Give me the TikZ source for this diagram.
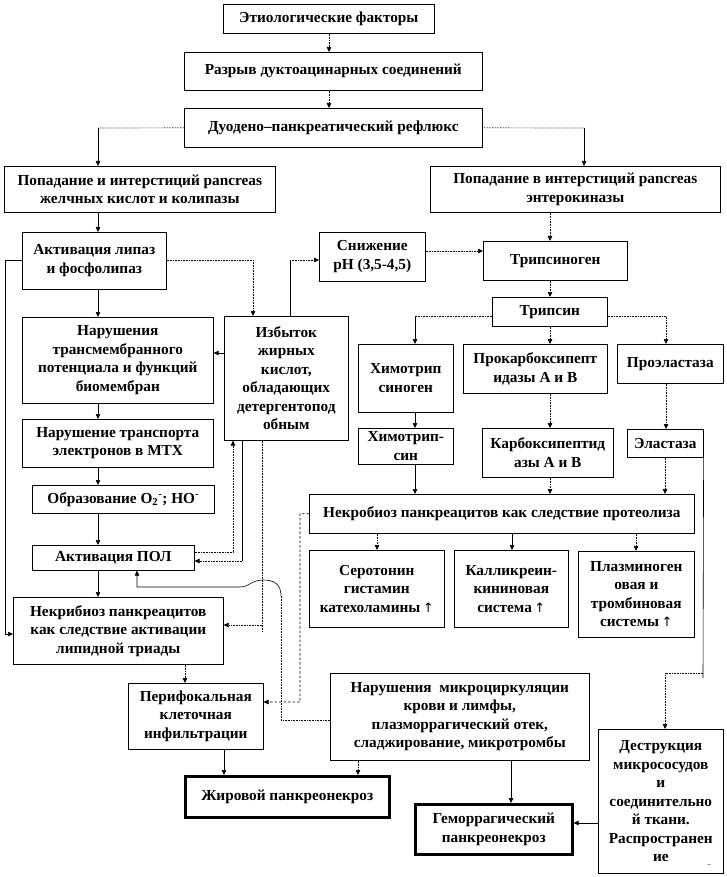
\documentclass[tikz,border=0pt]{standalone}
\usepackage{fontspec}
\setmainfont{Liberation Serif}[BoldFont={Liberation Serif Bold}]
\newfontfamily\symf{DejaVu Sans}
\usetikzlibrary{arrows.meta,calc}
\newcommand\mybox[7][]{\node[box,#1,minimum width={(#5-#3)*1pt},minimum height={(#6-#4)*1pt}] (#2) at (#3,#4) {#7};}
\newcommand\up{\,{\symf\mdseries\fontsize{13}{13}\selectfont ↑}}
\begin{document}
\begin{tikzpicture}[x=1pt,y=-1pt,
  font=\fontsize{15.3}{18.5}\selectfont\bfseries,
  box/.style={draw,line width=0.6pt,align=center,inner sep=0pt,anchor=north west},
  thickbox/.style={line width=2.6pt},
  arr/.style={-{Triangle[length=5pt,width=4.5pt]}},
  dotl/.style={densely dotted,line width=0.7pt},
  dashl/.style={dash pattern=on 2.5pt off 2pt,line width=0.6pt},
  every path/.style={line width=0.6pt}]
\useasboundingbox[fill=white] (0,0) rectangle (726,877);

\mybox{A}{223}{4}{434}{33}{Этиологические факторы}
\mybox{B}{184}{52}{482}{90}{Разрыв дуктоацинарных соединений}
\mybox{C}{184}{108}{482}{147}{Дуодено–панкреатический рефлюкс}
\mybox{D}{4}{166}{275}{212}{Попадание и интерстиций pancreas\\желчных кислот и колипазы}
\mybox{E}{430}{166}{720}{212}{Попадание в интерстиций pancreas\\энтерокиназы}
\mybox{F}{22}{232}{166}{289}{Активация липаз\\и фосфолипаз}
\mybox{G}{22}{317}{213}{403}{Нарушения\\трансмембранного\\потенциала и функций\\биомембран}
\mybox{H}{224}{316}{348}{440}{Избыток\\жирных\\кислот,\\обладающих\\детергентопод\\обным}
\mybox{I}{22}{419}{213}{467}{Нарушение транспорта\\электронов в МТХ}
\mybox{J}{32}{485}{214}{513}{Образование O\textsubscript{2}\textsuperscript{-}; HO\textsuperscript{-}}
\mybox{K}{32}{545}{194}{570}{Активация ПОЛ}
\mybox{L}{13}{597}{223}{664}{Некрибиоз панкреацитов\\как следствие активации\\липидной триады}
\mybox{M}{128}{683}{263}{749}{Перифокальная\\клеточная\\инфильтрации}
\mybox[thickbox]{N}{184}{775}{388}{816}{Жировой панкреонекроз}
\mybox{S}{319}{232}{425}{281}{Снижение\\pH (3,5-4,5)}
\mybox{T}{483}{241}{627}{280}{Трипсиноген}
\mybox{U}{492}{297}{607}{326}{Трипсин}
\mybox{V1}{358}{344}{453}{412}{Химотрип\\синоген}
\mybox{V2}{463}{344}{607}{393}{Прокарбоксипепт\\идазы А и В}
\mybox{V3}{617}{344}{723}{383}{Проэластаза}
\mybox{W1}{358}{428}{453}{464}{Химотрип-\\син}
\mybox{W2}{482}{428}{613}{477}{Карбоксипептид\\азы А и В}
\mybox{W3}{627}{429}{703}{457}{Эластаза}
\mybox{P}{309}{494}{694}{533}{Некробиоз панкреацитов как следствие протеолиза}
\mybox{Q1}{309}{550}{444}{627}{Серотонин\\гистамин\\катехоламины\up}
\mybox{Q2}{454}{550}{568}{627}{Калликреин-\\кининовая\\система\up}
\mybox{Q3}{578}{551}{694}{637}{Плазминоген\\овая и\\тромбиновая\\системы\up}
\mybox{R}{330}{673}{589}{760}{Нарушения\ \ микроциркуляции\\крови и лимфы,\\плазморрагический отек,\\сладжирование, микротромбы}
\mybox{Z}{598}{729}{723}{873}{Деструкция\\микрососудов\\и\\соединительно\\й ткани.\\Распространен\\ие}
\mybox[thickbox]{Y}{414}{803}{571}{853}{Геморрагический\\панкреонекроз}
\node[font=\fontsize{7}{7}\selectfont] (mk) at (709,866) {--};

% top chain
\draw[dotl,arr] (A.south -| 329,0) -- (B.north -| 329,0);
\draw[dotl,arr] (B.south -| 329,0) -- (C.north -| 329,0);
\coordinate (c1) at (98,128); \coordinate (c2) at (584,128);
\draw[dotl] (C.west) -- (c1); \draw[arr] (c1) -- (D.north -| c1);
\draw[dotl] (C.east) -- (c2); \draw[arr] (c2) -- (E.north -| c2);
% left column
\draw[arr] (D.south -| 98,0) -- (F.north -| 98,0);
\draw[arr] (F.south -| 98,0) -- (G.north -| 98,0);
\draw[arr] (G.south -| 98,0) -- (I.north -| 98,0);
\draw[arr] (I.south -| 98,0) -- (J.north -| 98,0);
\draw[arr] (J.south -| 98,0) -- (K.north -| 98,0);
\draw[arr] (K.south -| 98,0) -- (L.north -| 98,0);
\draw[dotl,arr] (L.south -| 185,0) -- (M.north -| 185,0);
\draw[arr] (M.south -| 224,0) -- (N.north -| 224,0);
\draw[arr] (F.west |- 0,260) -- (5,260) -- (5,634) -- (L.west |- 0,634);
\draw[dotl,arr] (F.east |- 0,260) -- (253,260) -- (H.north -| 253,0);
\coordinate (c3) at (290,260);
\draw (H.north -| c3) -- (c3); \draw[dotl,arr] (c3) -- (S.west |- c3);
\draw[arr] (H.west |- 0,353) -- (G.east |- 0,353);
\draw[dotl,arr] (K.east |- 0,552) -- (233,552) -- (H.south -| 233,0);
\coordinate (c4) at (242,561);
\draw (H.south -| c4) -- (c4); \draw[dotl,arr] (c4) -- (K.east |- c4);
\coordinate (c5) at (262,625);
\draw[dotl] (H.south -| 262,0) -- (262,632);
\draw[dotl,arr] (c5) -- (L.east |- c5);
\coordinate (c6) at (281,596);
\draw[dotl] (R.west |- 0,720) -- (281,720) -- (c6);
\draw[arr] (c6) .. controls (281,584) and (274,580) .. (263,580) .. controls (252,580) and (249,587) .. (240,587) -- (137,587) -- (K.south -| 137,0);
\draw[dashl,arr] (P.west) -- (300,513.5) -- (300,702) -- (M.east |- 0,702);
% bottom
\draw[dotl,arr] (R.south -| 358,0) -- (N.north -| 358,0);
\draw[arr] (R.south -| 511,0) -- (Y.north -| 511,0);
\draw[arr] (Z.west |- 0,823) -- (Y.east |- 0,823);
\coordinate (c7) at (703,673);
\draw (W3.south east) -- (703,678);
\draw[dotl,arr] (c7) -- (665,673) -- (Z.north -| 665,0);
% right column
\draw[dotl,arr] (E.south -| 550,0) -- (T.north -| 550,0);
\draw[dotl,arr] (S.east |- 0,251) -- (T.west |- 0,251);
\draw[dotl,arr] (T.south -| 550,0) -- (U.north -| 550,0);
\coordinate (c8) at (415,316); \coordinate (c9) at (666,316);
\draw[dotl] (U.west |- c8) -- (c8); \draw[arr] (c8) -- (V1.north -| c8);
\draw[dotl,arr] (U.south -| 550,0) -- (V2.north -| 550,0);
\draw[dotl,arr] (U.east |- c9) -- (c9) -- (V3.north -| c9);
\draw[arr] (V1.south -| 415,0) -- (W1.north -| 415,0);
\draw[dotl,arr] (V2.south -| 550,0) -- (W2.north -| 550,0);
\draw[dotl,arr] (V3.south -| 666,0) -- (W3.north -| 666,0);
\draw[arr] (W1.south -| 415,0) -- (P.north -| 415,0);
\draw[dotl,arr] (W2.south -| 550,0) -- (P.north -| 550,0);
\draw[dotl,arr] (W3.south -| 665,0) -- (P.north -| 665,0);
\draw[dotl,arr] (P.south -| 377,0) -- (Q1.north -| 377,0);
\draw[arr] (P.south -| 512,0) -- (Q2.north -| 512,0);
\draw[dotl,arr] (P.south -| 636,0) -- (Q3.north -| 636,0);
\end{tikzpicture}
\end{document}
